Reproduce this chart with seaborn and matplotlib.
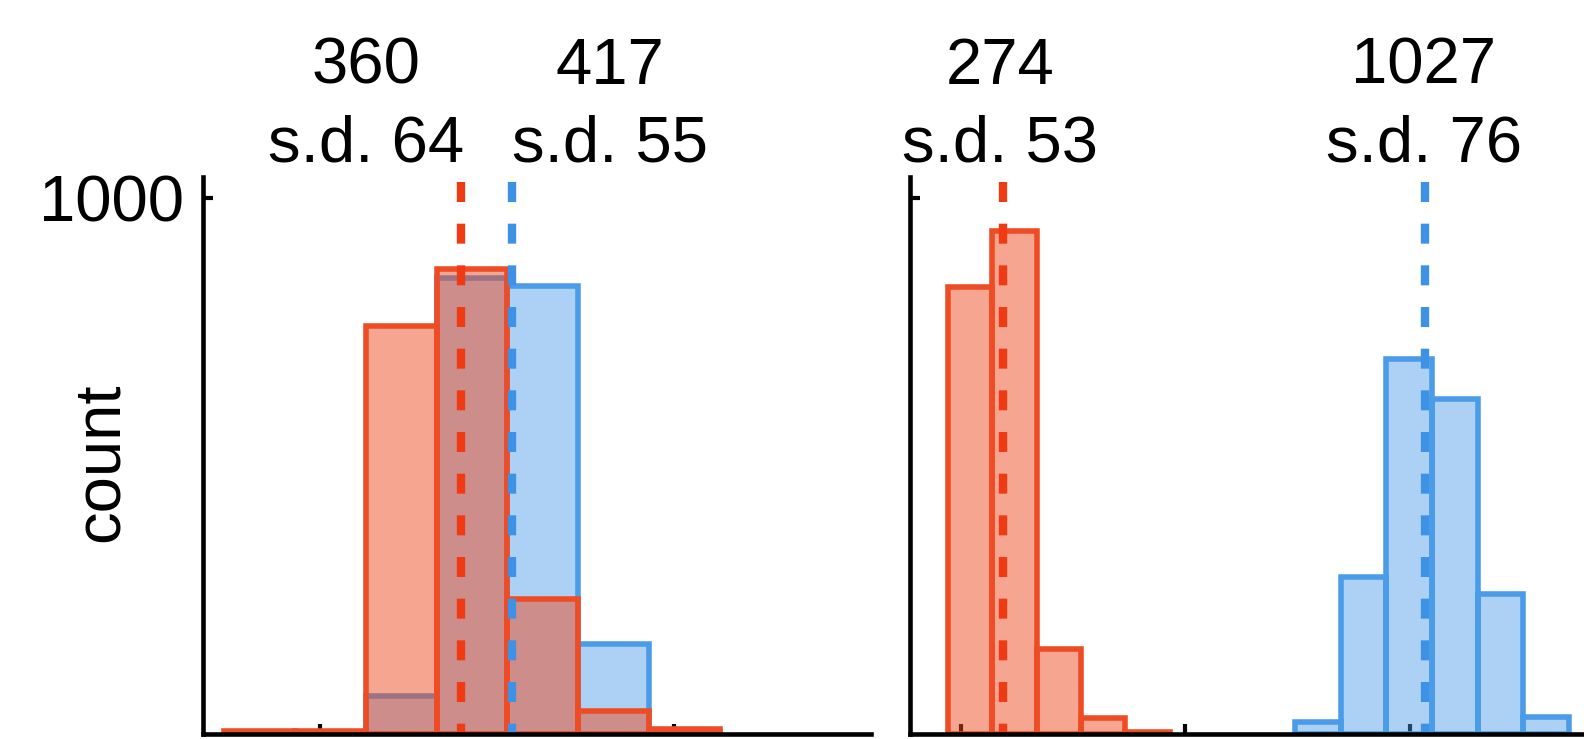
import numpy as np
import pandas as pd
import matplotlib
matplotlib.use("Agg")
import matplotlib.pyplot as plt
import seaborn as sns

# ---- data -------------------------------------------------------------
# Left panel: two overlapping distributions (bin range + counts per bin)
left_red_range = (92, 652)
left_red_counts = [6, 5, 761, 868, 251, 43, 9]
left_blue_range = (252, 652)
left_blue_counts = [70, 850, 836, 168, 4]
left_means = [360, 417]
left_sds = [64, 55]

# Right panel: two well separated distributions
right_red_range = (177, 572)
right_red_counts = [834, 938, 158, 30, 4]
right_blue_range = (795, 1284)
right_blue_counts = [23, 292, 699, 625, 262, 32]
right_means = [274, 1027]
right_sds = [53, 76]

left_xticks = [200, 600]
right_xticks = [200, 600, 1000]
y_ticks = [1000]
y_tick_labels = ["1000"]

# ---- style ------------------------------------------------------------
RED = "#EE4C24"
RED_LINE = "#F03A14"
BLUE = "#4A9BE8"
BLUE_LINE = "#3D92E6"
FS = 47

sns.set_theme(style="white")
plt.rcParams["font.family"] = ["Liberation Sans", "DejaVu Sans"]
plt.rcParams["text.color"] = "black"
plt.rcParams["axes.labelcolor"] = "black"
plt.rcParams["xtick.color"] = "black"
plt.rcParams["ytick.color"] = "black"

W, H = 1584, 739
fig = plt.figure(figsize=(W / 100, H / 100), dpi=100)


def px_axes(x0, x1, ytop, ybot):
    return fig.add_axes([x0 / W, 1 - ybot / H, (x1 - x0) / W, (ybot - ytop) / H])


ax_l = px_axes(203, 871, 177, 734)
ax_r = px_axes(910, 1600, 177, 734)


def draw_hist(ax, rng, counts, color, alpha):
    n = len(counts)
    edges = np.linspace(rng[0], rng[1], n + 1)
    df = pd.DataFrame({"value": (edges[:-1] + edges[1:]) / 2,
                       "count": np.asarray(counts, dtype=float)})
    sns.histplot(data=df, x="value", weights="count", bins=n, binrange=rng,
                 color=color, alpha=alpha, edgecolor=color, linewidth=4,
                 ax=ax, zorder=2)


def draw_mean(ax, m, color):
    ax.plot([m, m], [1030, 0], color=color, lw=6,
            linestyle=(0, (2.4, 2.6)), dash_capstyle="butt", zorder=4)


draw_hist(ax_l, left_blue_range, left_blue_counts, BLUE, 0.45)
draw_hist(ax_l, left_red_range, left_red_counts, RED, 0.5)
draw_mean(ax_l, left_means[0], RED_LINE)
draw_mean(ax_l, left_means[1], BLUE_LINE)

draw_hist(ax_r, right_red_range, right_red_counts, RED, 0.5)
draw_hist(ax_r, right_blue_range, right_blue_counts, BLUE, 0.45)
draw_mean(ax_r, right_means[0], RED_LINE)
draw_mean(ax_r, right_means[1], BLUE_LINE)

for ax, xlim, xt in [(ax_l, (68, 823), left_xticks),
                     (ax_r, (109, 1339), right_xticks)]:
    ax.set_xlim(*xlim)
    ax.set_ylim(0, 1039)
    ax.set_xticks(xt)
    ax.set_yticks(y_ticks)
    ax.set_yticklabels(y_tick_labels)
    ax.tick_params(direction="in", length=7, width=3, colors="black",
                   labelbottom=False, labelsize=FS, pad=14,
                   bottom=True, left=True)
    sns.despine(ax=ax)
    for s in ["left", "bottom"]:
        ax.spines[s].set_linewidth(3.3)
        ax.spines[s].set_color("black")
        ax.spines[s].set_zorder(5)
    ax.set_xlabel("")
    ax.set_ylabel("")
    ax.grid(False)
    ax.patch.set_alpha(0)

ax_r.tick_params(labelleft=False)

ax_l.set_ylabel("count", fontsize=FS)
ax_l.yaxis.set_label_coords(-0.108, 0.488)

# mean / s.d. annotations above each distribution
label_x = [366, 610, 1000, 1424]
means = left_means + right_means
sds = left_sds + right_sds
for x, m, s in zip(label_x, means, sds):
    fig.text(x / W, 1 - 84 / H, f"{m}", ha="center", va="baseline", fontsize=FS)
    fig.text(x / W, 1 - 162 / H, f"s.d. {s}", ha="center", va="baseline", fontsize=FS)

fig.savefig("out.png", dpi=100, facecolor="white")
